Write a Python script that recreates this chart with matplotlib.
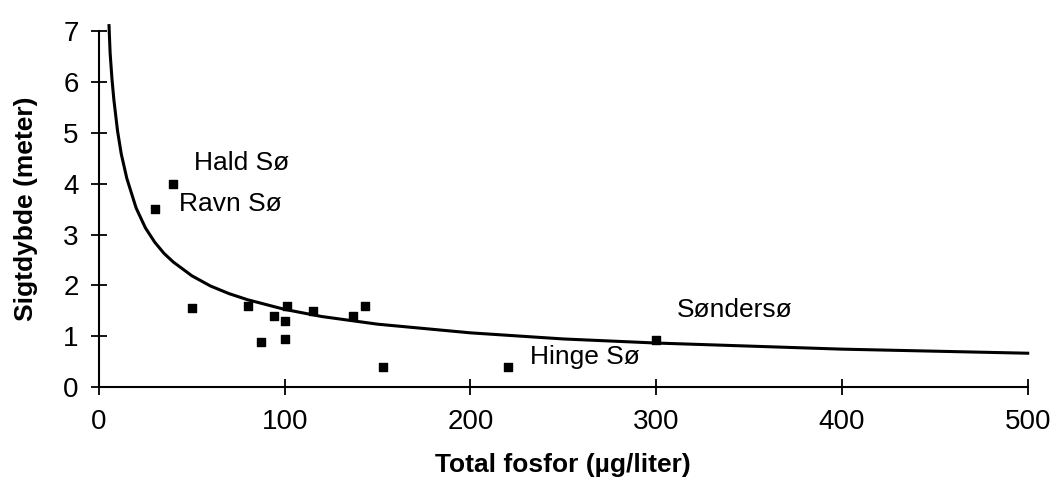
import matplotlib
matplotlib.use("Agg")
import matplotlib.pyplot as plt

plt.rcParams["font.family"] = ["Liberation Sans", "DejaVu Sans"]

# measured lakes: total phosphorus (ug/l) vs Secchi depth (m)
fosfor = [40, 30, 50, 80, 101, 94, 100, 87, 100, 115, 137, 143, 153, 220, 300]
sigtdybde = [4.0, 3.5, 1.55, 1.6, 1.6, 1.4, 1.3, 0.9, 0.95, 1.5, 1.4, 1.6, 0.4, 0.4, 0.93]

# fitted curve
curve_x = [5.4, 6, 7, 8, 10, 12, 15, 20, 25, 30, 35, 40, 50, 60, 70, 80,
           100, 120, 150, 200, 250, 300, 400, 500]
curve_y = [7.1, 6.56, 6.05, 5.65, 5.03, 4.58, 4.1, 3.52, 3.13, 2.85, 2.63, 2.46,
           2.19, 1.99, 1.84, 1.72, 1.53, 1.39, 1.24, 1.07, 0.95, 0.87, 0.75, 0.67]

labels = ["Hald Sø", "Ravn Sø", "Hinge Sø", "Søndersø"]
label_x = [51, 43, 232, 311]
label_y = [4.4, 3.6, 0.6, 1.52]

fig = plt.figure(figsize=(10.53, 4.8), dpi=100)
ax = fig.add_axes([0.094, 0.193, 0.882, 0.743])

ax.plot(curve_x, curve_y, color="black", linewidth=2.2, clip_on=False, zorder=2)
ax.scatter(fosfor, sigtdybde, marker="s", s=40, color="black", zorder=3, clip_on=False)

for text, x, y in zip(labels, label_x, label_y):
    ax.text(x, y, text, fontsize=19, va="center", ha="left")

ax.set_xlim(0, 500)
ax.set_ylim(0, 7)
ax.set_xticks([0, 100, 200, 300, 400, 500])
ax.set_yticks(range(0, 8))

for side in ["top", "right"]:
    ax.spines[side].set_visible(False)
for side in ["left", "bottom"]:
    ax.spines[side].set_linewidth(1.5)

ax.tick_params(axis="both", direction="inout", length=11, width=1.3, labelsize=20)
ax.tick_params(axis="y", pad=9)
ax.tick_params(axis="x", pad=10)

ax.set_xlabel("Total fosfor (µg/liter)", fontsize=19, fontweight="bold", labelpad=13)
ax.set_ylabel("Sigtdybde (meter)", fontsize=19, fontweight="bold", labelpad=18)

fig.savefig("out.png", dpi=100)
